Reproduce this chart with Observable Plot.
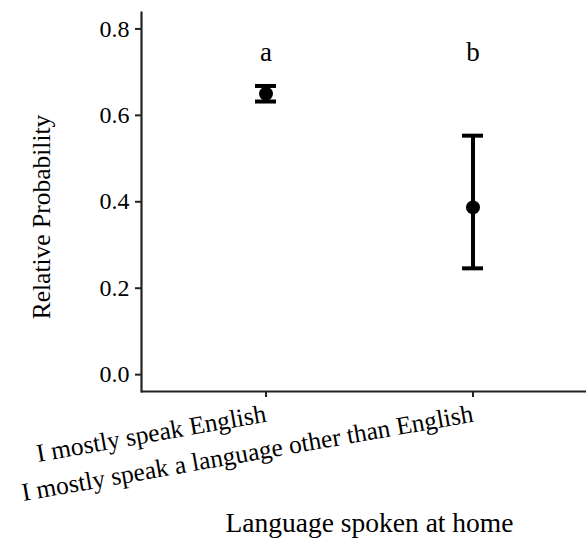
<!DOCTYPE html>
<html><head><meta charset="utf-8">
<script src="https://cdn.jsdelivr.net/npm/d3@7"></script>
<script src="https://cdn.jsdelivr.net/npm/@observablehq/plot@0.6"></script>
<style>body{margin:0;background:#fff}</style>
</head><body><div id="chart"></div>
<script>
const categories = ["I mostly speak English", "I mostly speak a language other than English"];
const estimates = [0.650, 0.387];
const lower = [0.632, 0.246];
const upper = [0.668, 0.553];
const groupLetters = ["a", "b"];
const letterLevel = 0.745;
const yTicks = [0, 0.2, 0.4, 0.6, 0.8];
const yTitle = "Relative Probability";
const xTitle = "Language spoken at home";

const data = categories.map((c, i) => ({category: c, est: estimates[i], lo: lower[i], hi: upper[i], letter: groupLetters[i]}));

const yMin = -0.039, yMax = 0.838;
const chart = Plot.plot({
  width: 586, height: 538,
  marginLeft: 141, marginRight: 0, marginTop: 12, marginBottom: 147,
  style: {fontFamily: "'Liberation Serif', 'DejaVu Serif', serif", fontSize: "24px", color: "#000", background: "#fff"},
  x: {type: "band", domain: categories, range: [254.5, 483.5], paddingInner: 0.899, paddingOuter: 0},
  y: {domain: [yMin, yMax]},
  marks: [
    Plot.ruleY([yMin], {stroke: "#222", strokeWidth: 2.2}),
    Plot.frame({anchor: "left", stroke: "#222", strokeWidth: 2.2}),
    Plot.axisY(yTicks, {tickFormat: d3.format(".1f"), tickSize: 6, tickPadding: 6, strokeWidth: 2, stroke: "#222",
      fontSize: 24, label: null}),
    Plot.axisX({tickRotate: -10, tickSize: 6, tickPadding: 16, strokeWidth: 2, stroke: "#222",
      fontSize: 25.5, label: null}),
    Plot.text([yTitle], {text: d => d, frameAnchor: "left", textAnchor: "middle", lineAnchor: "middle",
      rotate: -90, dx: -100, dy: 15, fontSize: 25.5, fill: "#000"}),
    Plot.text([xTitle], {text: d => d, frameAnchor: "bottom", textAnchor: "middle", lineAnchor: "middle",
      dx: 5.5, dy: 132, fontSize: 27.5, fill: "#000"}),
    Plot.ruleX(data, {x: "category", y1: "lo", y2: "hi", stroke: "#000", strokeWidth: 4}),
    Plot.tickY(data, {x: "category", y: "lo", stroke: "#000", strokeWidth: 4}),
    Plot.tickY(data, {x: "category", y: "hi", stroke: "#000", strokeWidth: 4}),
    Plot.dot(data, {x: "category", y: "est", r: 7, fill: "#000", stroke: "none"}),
    Plot.text(data, {x: "category", y: () => letterLevel, text: "letter", fill: "#000", fontSize: 27})
  ]
});
document.getElementById("chart").appendChild(chart);
</script>
</body></html>
